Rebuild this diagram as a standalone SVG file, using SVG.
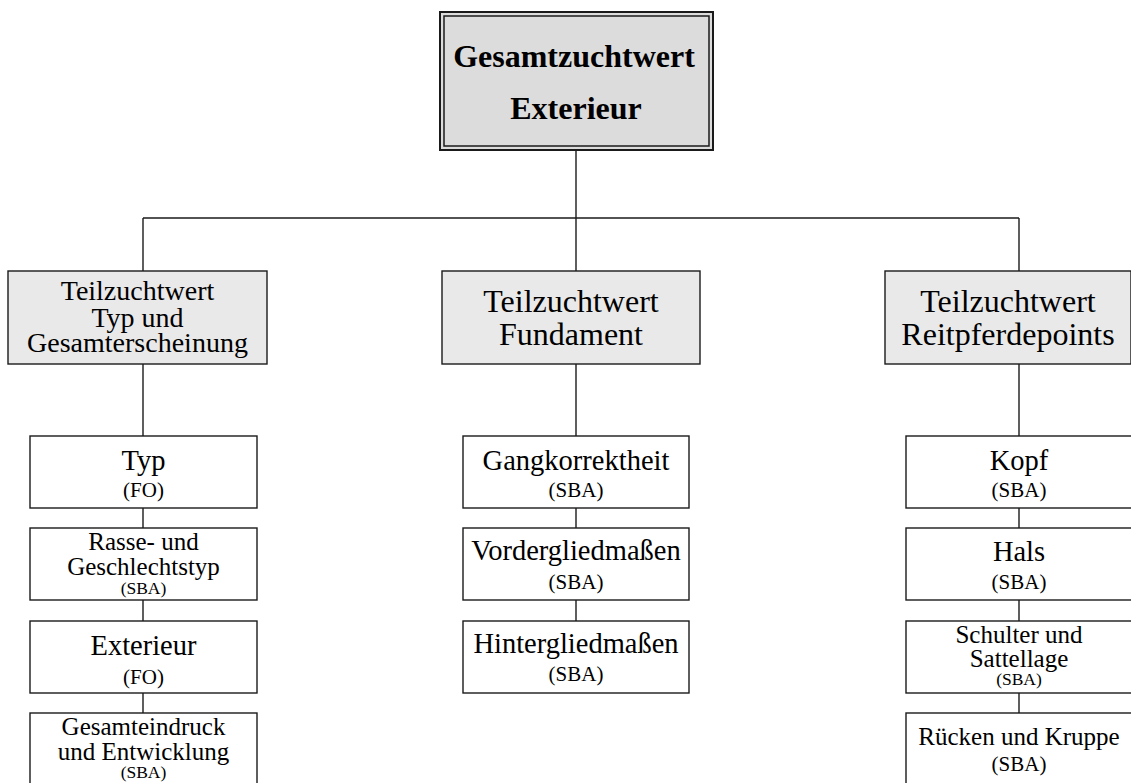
<svg xmlns="http://www.w3.org/2000/svg" width="1131" height="783" viewBox="0 0 1131 783">
  <style>
    text { font-family: "Liberation Serif", "Times New Roman", serif; fill: #000; text-anchor: middle; }
    .line { stroke: #1a1a1a; stroke-width: 1.4; fill: none; }
    .root-outer { fill: #dcdcdc; stroke: #1a1a1a; stroke-width: 2; }
    .root-inner { fill: none; stroke: #1a1a1a; stroke-width: 1.5; }
    .part { fill: #e9e9e9; stroke: #1a1a1a; stroke-width: 1.4; }
    .trait { fill: #ffffff; stroke: #1a1a1a; stroke-width: 1.4; }
    .title { font-size: 32px; font-weight: bold; }
    .big { font-size: 32px; }
    .mid { font-size: 28px; }
    .main { font-size: 28.5px; }
    .small { font-size: 25px; }
    .src { font-size: 21px; }
    .src-s { font-size: 17.5px; }
  </style>

  <!-- connectors -->
  <g id="connectors" class="line">
    <line x1="576" y1="150" x2="576" y2="218"/>
    <line x1="143" y1="218" x2="1019" y2="218"/>
    <line x1="143" y1="218" x2="143" y2="271"/>
    <line x1="576" y1="218" x2="576" y2="271"/>
    <line x1="1019" y1="218" x2="1019" y2="271"/>
    <!-- left column -->
    <line x1="143" y1="364" x2="143" y2="436"/>
    <line x1="143" y1="508" x2="143" y2="528"/>
    <line x1="143" y1="600" x2="143" y2="621"/>
    <line x1="143" y1="693" x2="143" y2="713"/>
    <!-- middle column -->
    <line x1="576" y1="364" x2="576" y2="436"/>
    <line x1="576" y1="508" x2="576" y2="528"/>
    <line x1="576" y1="600" x2="576" y2="621"/>
    <!-- right column -->
    <line x1="1019" y1="364" x2="1019" y2="436"/>
    <line x1="1019" y1="508" x2="1019" y2="528"/>
    <line x1="1019" y1="600" x2="1019" y2="621"/>
    <line x1="1019" y1="693" x2="1019" y2="713"/>
  </g>

  <!-- overall value -->
  <g id="gesamtzuchtwert">
    <rect class="root-outer" x="440" y="12" width="273" height="138"/>
    <rect class="root-inner" x="444" y="16" width="265" height="130"/>
    <text class="title" x="574" y="67">Gesamtzuchtwert</text>
    <text class="title" x="576" y="119">Exterieur</text>
  </g>

  <!-- partial values -->
  <g id="tzw-typ">
    <rect class="part" x="8" y="271" width="259" height="93"/>
    <text class="mid" x="137.5" y="300">Teilzuchtwert</text>
    <text class="mid" x="137.5" y="327">Typ und</text>
    <text class="mid" x="137.5" y="352">Gesamterscheinung</text>
  </g>
  <g id="tzw-fundament">
    <rect class="part" x="442" y="271" width="258" height="93"/>
    <text class="big" x="571" y="312">Teilzuchtwert</text>
    <text class="big" x="571" y="345">Fundament</text>
  </g>
  <g id="tzw-reitpferdepoints">
    <rect class="part" x="885" y="271" width="246" height="93"/>
    <text class="big" x="1008" y="312">Teilzuchtwert</text>
    <text class="big" x="1008" y="345">Reitpferdepoints</text>
  </g>

  <!-- left column traits -->
  <g id="typ">
    <rect class="trait" x="30" y="436" width="227" height="72"/>
    <text class="main" x="143.5" y="470">Typ</text>
    <text class="src" x="143.5" y="497">(FO)</text>
  </g>
  <g id="rasse-geschlechtstyp">
    <rect class="trait" x="30" y="528" width="227" height="72"/>
    <text class="small" x="143.5" y="550">Rasse- und</text>
    <text class="small" x="143.5" y="575">Geschlechtstyp</text>
    <text class="src-s" x="143.5" y="594">(SBA)</text>
  </g>
  <g id="exterieur">
    <rect class="trait" x="30" y="621" width="227" height="72"/>
    <text class="main" x="143.5" y="655">Exterieur</text>
    <text class="src" x="143.5" y="684">(FO)</text>
  </g>
  <g id="gesamteindruck">
    <rect class="trait" x="30" y="713" width="227" height="80"/>
    <text class="small" x="143.5" y="735">Gesamteindruck</text>
    <text class="small" x="143.5" y="760">und Entwicklung</text>
    <text class="src-s" x="143.5" y="778">(SBA)</text>
  </g>

  <!-- middle column traits -->
  <g id="gangkorrektheit">
    <rect class="trait" x="463" y="436" width="226" height="72"/>
    <text class="main" x="576" y="470">Gangkorrektheit</text>
    <text class="src" x="576" y="497">(SBA)</text>
  </g>
  <g id="vordergliedmassen">
    <rect class="trait" x="463" y="528" width="226" height="72"/>
    <text class="main" x="576" y="560">Vordergliedmaßen</text>
    <text class="src" x="576" y="589">(SBA)</text>
  </g>
  <g id="hintergliedmassen">
    <rect class="trait" x="463" y="621" width="226" height="72"/>
    <text class="main" x="576" y="653">Hintergliedmaßen</text>
    <text class="src" x="576" y="681">(SBA)</text>
  </g>

  <!-- right column traits -->
  <g id="kopf">
    <rect class="trait" x="906" y="436" width="227" height="72"/>
    <text class="main" x="1019" y="470">Kopf</text>
    <text class="src" x="1019" y="497">(SBA)</text>
  </g>
  <g id="hals">
    <rect class="trait" x="906" y="528" width="227" height="72"/>
    <text class="main" x="1019" y="561">Hals</text>
    <text class="src" x="1019" y="589">(SBA)</text>
  </g>
  <g id="schulter-sattellage">
    <rect class="trait" x="906" y="621" width="227" height="72"/>
    <text class="small" x="1019" y="643">Schulter und</text>
    <text class="small" x="1019" y="667">Sattellage</text>
    <text class="src-s" x="1019" y="685">(SBA)</text>
  </g>
  <g id="ruecken-kruppe">
    <rect class="trait" x="906" y="713" width="227" height="80"/>
    <text class="small" x="1019" y="745">Rücken und Kruppe</text>
    <text class="src" x="1019" y="771">(SBA)</text>
  </g>
</svg>
